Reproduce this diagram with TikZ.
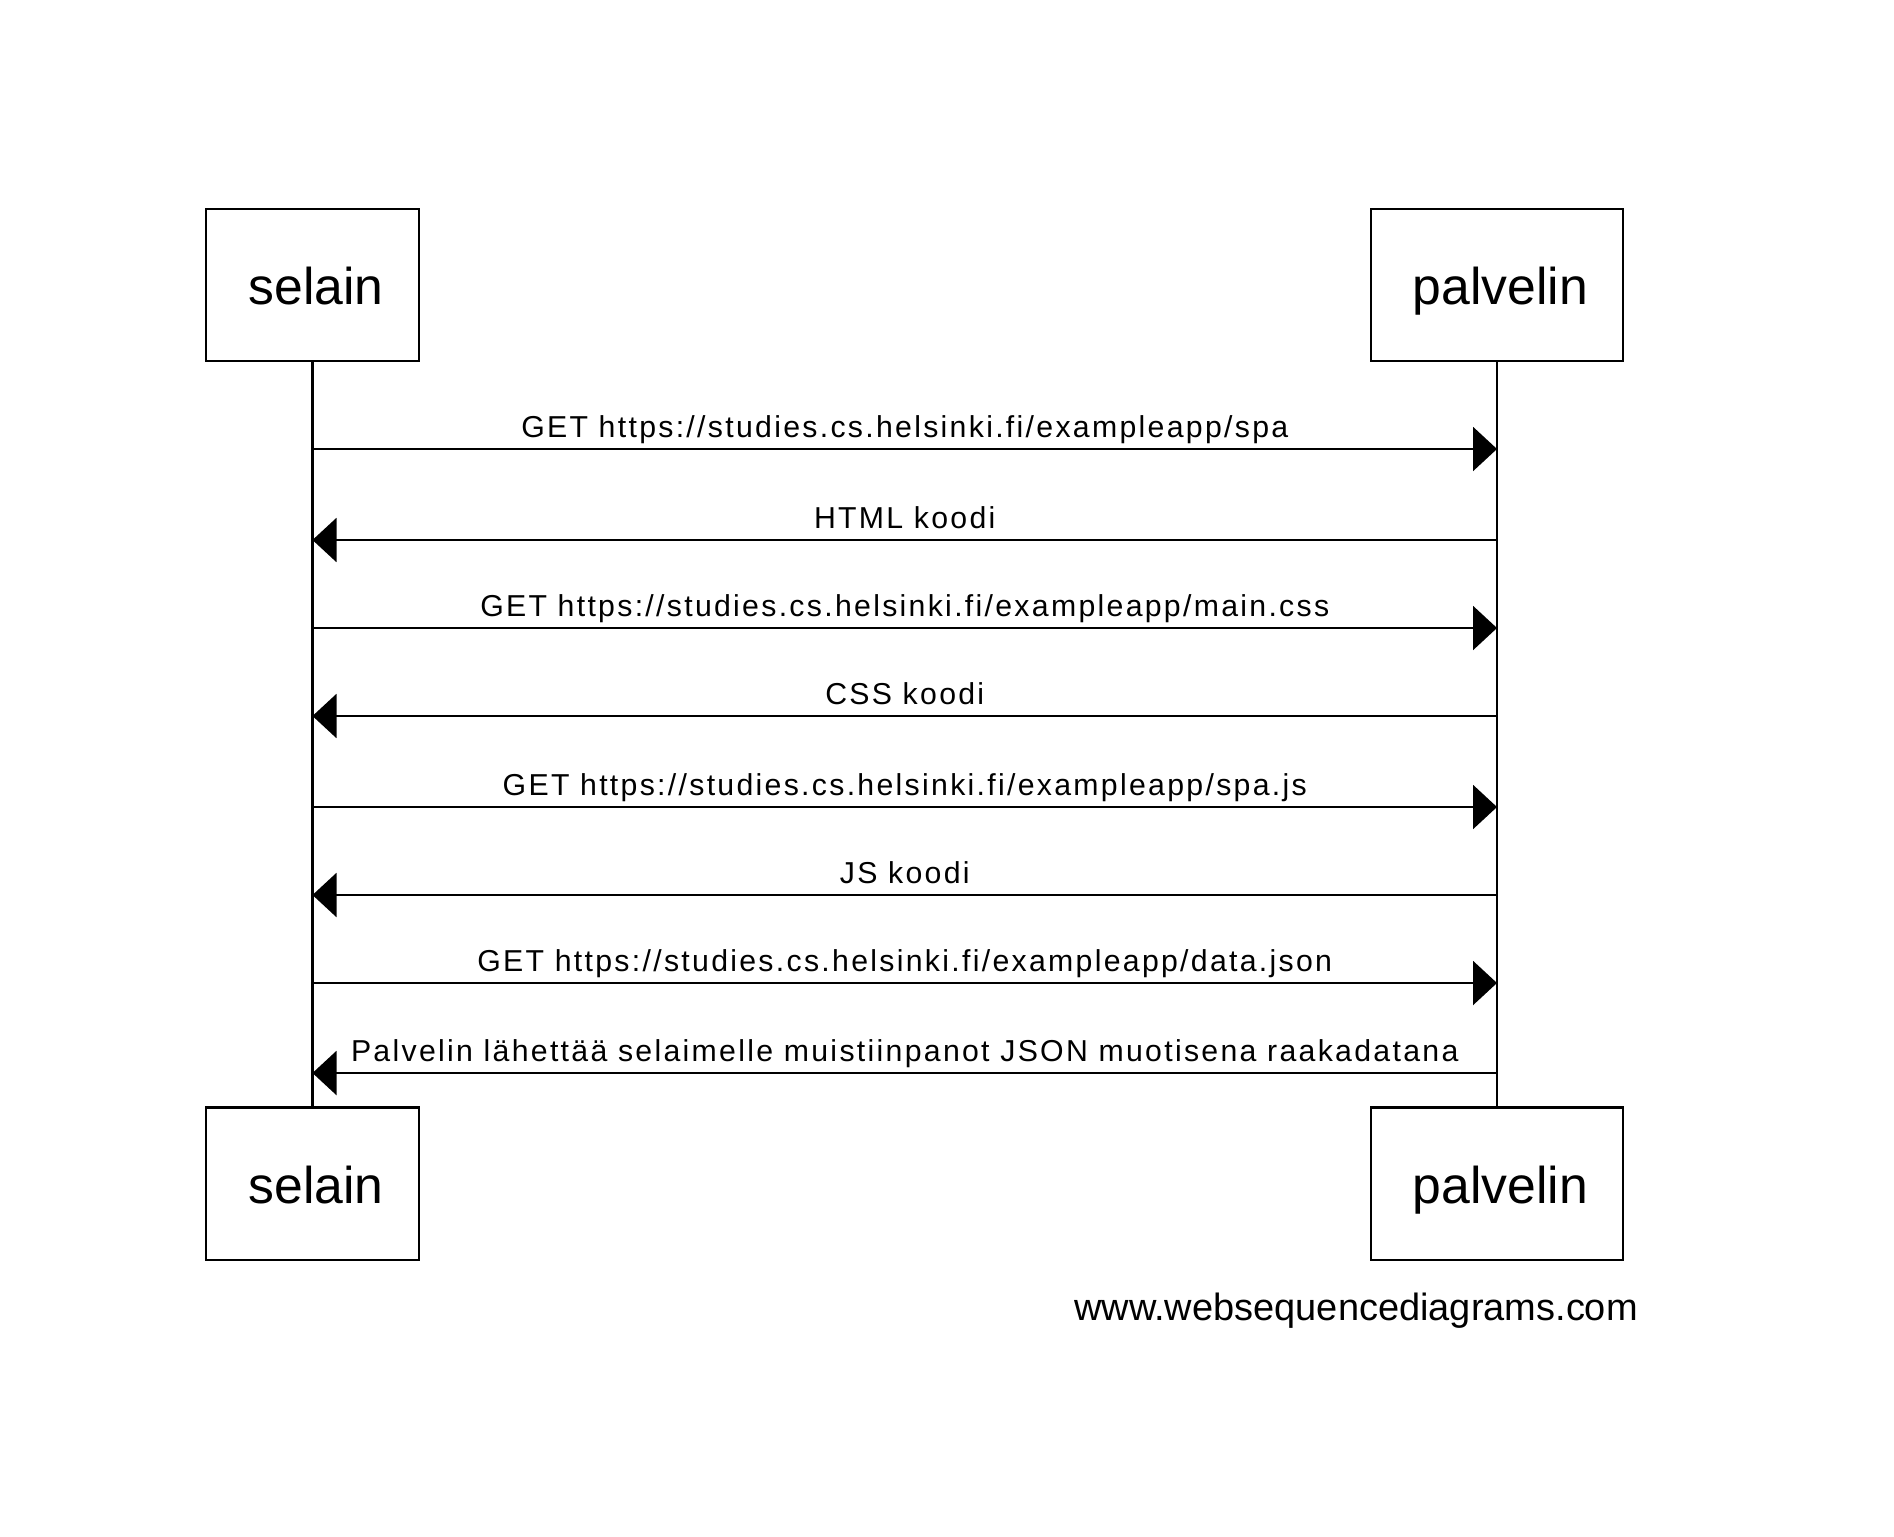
\documentclass[tikz,border=0pt]{standalone}
\usepackage{fontspec}
\setmainfont{Liberation Sans}
\newfontfamily\msgfont[LetterSpace=7.6]{Liberation Sans}
\usetikzlibrary{arrows.meta}
\tikzset{
  actor/.style={draw, line width=0.6pt, minimum height=1.52cm, inner sep=0pt, text depth=0pt, font=\fontsize{14.7}{18}\selectfont},
  msg/.style={line width=0.6pt, -{Triangle[length=2.4mm,width=4.4mm]}},
  lbl/.style={midway, anchor=base, yshift=1.2mm, inner sep=0pt, font=\msgfont\fontsize{8.6}{10}\selectfont}
}
\begin{document}
\begin{tikzpicture}[x=0.01cm, y=-0.01cm]
            \useasboundingbox (0,0) rectangle (1894,1536);
            \node[actor, minimum width=2.13cm] (selTop) at (312.5,285) {\raisebox{-0.25mm}{\hspace{0.7mm}selain}};
            \node[actor, minimum width=2.52cm] (palTop) at (1497,285) {\raisebox{-0.25mm}{\hspace{0.7mm}palvelin}};
            \node[actor, minimum width=2.13cm] (selBot) at (312.5,1183.5) {\raisebox{-0.25mm}{\hspace{0.7mm}selain}};
            \node[actor, minimum width=2.52cm] (palBot) at (1497,1183.5) {\raisebox{-0.25mm}{\hspace{0.7mm}palvelin}};
            \draw[line width=0.6pt] (selTop) -- (selBot);
            \draw[line width=0.6pt] (palTop) -- (palBot);
            % viestit
            \coordinate (s1) at (selTop.south |- 0,449); \coordinate (p1) at (palTop.south |- 0,449);
            \coordinate (s2) at (selTop.south |- 0,540); \coordinate (p2) at (palTop.south |- 0,540);
            \coordinate (s3) at (selTop.south |- 0,628); \coordinate (p3) at (palTop.south |- 0,628);
            \coordinate (s4) at (selTop.south |- 0,716); \coordinate (p4) at (palTop.south |- 0,716);
            \coordinate (s5) at (selTop.south |- 0,807); \coordinate (p5) at (palTop.south |- 0,807);
            \coordinate (s6) at (selTop.south |- 0,895); \coordinate (p6) at (palTop.south |- 0,895);
            \coordinate (s7) at (selTop.south |- 0,983); \coordinate (p7) at (palTop.south |- 0,983);
            \coordinate (s8) at (selTop.south |- 0,1073); \coordinate (p8) at (palTop.south |- 0,1073);
            \draw[msg] (s1) -- node[lbl] (m1) {GET https://studies.cs.helsinki.fi/exampleapp/spa} (p1);
            \draw[msg] (p2) -- node[lbl] (m2) {HTML koodi} (s2);
            \draw[msg] (s3) -- node[lbl] (m3) {GET https://studies.cs.helsinki.fi/exampleapp/main.css} (p3);
            \draw[msg] (p4) -- node[lbl] (m4) {CSS koodi} (s4);
            \draw[msg] (s5) -- node[lbl] (m5) {GET https://studies.cs.helsinki.fi/exampleapp/spa.js} (p5);
            \draw[msg] (p6) -- node[lbl] (m6) {JS koodi} (s6);
            \draw[msg] (s7) -- node[lbl] (m7) {GET https://studies.cs.helsinki.fi/exampleapp/data.json} (p7);
            \draw[msg] (p8) -- node[lbl] (m8) {Palvelin lähettää selaimelle muistiinpanot JSON muotisena raakadatana} (s8);
            \node[anchor=base, inner sep=0pt, font=\fontsize{10.8}{13}\selectfont] (wsd) at (1356,1320) {www.websequencediagrams.com};
        \end{tikzpicture}
\end{document}
